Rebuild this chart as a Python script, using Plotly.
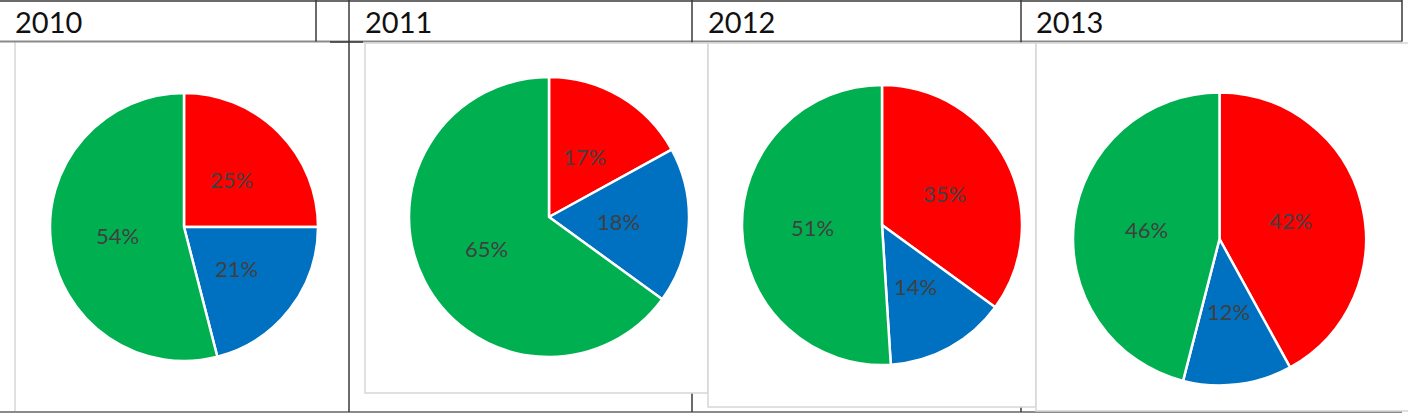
import math
import plotly.graph_objects as go

W, H = 1408, 419

years = ["2010", "2011", "2012", "2013"]
categories = ["A", "B", "C"]
red_vals = [25, 17, 35, 42]
blue_vals = [21, 18, 14, 12]
green_vals = [54, 65, 51, 46]
colors = ["#FF0000", "#0070C0", "#00B050"]

# layout (pixel) geometry for each pie: center x, center y, radius
pie_cx = [184, 549, 882, 1219.5]
pie_cy = [227, 217, 225, 239]
pie_r = [134, 140, 140, 146.5]
header_x = [16, 366, 709, 1037]
LABEL_R = 0.5  # labels sit at half radius along slice bisector (Excel style)

fig = go.Figure()
layout_axes = {}
annotations = []
for i, y in enumerate(years):
    cx, cy, r = pie_cx[i], pie_cy[i], pie_r[i]
    dom_x = [(cx - r) / W, (cx + r) / W]
    dom_y = [(H - cy - r) / H, (H - cy + r) / H]
    vals = [red_vals[i], blue_vals[i], green_vals[i]]
    fig.add_trace(go.Pie(
        labels=categories,
        values=vals,
        sort=False,
        direction="clockwise",
        rotation=0,
        marker=dict(colors=colors, line=dict(color="white", width=2.5)),
        textinfo="none",
        hoverinfo="skip",
        domain=dict(x=dom_x, y=dom_y),
        showlegend=False,
    ))
    # hidden cartesian axes sharing the pie's square domain, range [-1, 1]
    sfx = "" if i == 0 else str(i + 1)
    layout_axes["xaxis" + sfx] = dict(domain=dom_x, range=[-1, 1], visible=False,
                                      fixedrange=True)
    layout_axes["yaxis" + sfx] = dict(domain=dom_y, range=[-1, 1], visible=False,
                                      fixedrange=True, anchor="x" + sfx)
    layout_axes["xaxis" + sfx]["anchor"] = "y" + sfx
    fig.add_trace(go.Scatter(x=[], y=[], xaxis="x" + sfx, yaxis="y" + sfx,
                             showlegend=False, hoverinfo="skip"))
    total = sum(vals)
    cum = 0
    for v in vals:
        mid = (cum + v / 2) / total * 2 * math.pi
        cum += v
        annotations.append(dict(
            text=f"{v}%", xref="x" + sfx, yref="y" + sfx,
            x=LABEL_R * math.sin(mid), y=LABEL_R * math.cos(mid),
            xanchor="center", yanchor="middle", showarrow=False,
            font=dict(family="Lato", size=22, color="#404040")))


def px(x):
    return x / W


def py(y):
    return 1 - y / H


shapes = []
dark = "#3a3a3a"
gray = "#8a8a8a"
light = "#d6d6d6"


def line(x0, y0, x1, y1, color, width):
    shapes.append(dict(type="line", xref="paper", yref="paper",
                       x0=px(x0), y0=py(y0), x1=px(x1), y1=py(y1),
                       line=dict(color=color, width=width), layer="below"))


def rect(x0, y0, x1, y1, color, width):
    shapes.append(dict(type="rect", xref="paper", yref="paper",
                       x0=px(x0), y0=py(y0), x1=px(x1), y1=py(y1),
                       line=dict(color=color, width=width),
                       fillcolor="white", layer="below"))


# first chart box: only its left edge is visible
line(15, 42, 15, 411, light, 1.5)

# table lines
line(0, 1, 1402, 1, dark, 1.5)
line(0, 41.5, 1402, 41.5, gray, 2)
line(0, 412, 1402, 412, gray, 2)
line(316, 0, 316, 41.5, dark, 1.5)
line(349, 0, 349, 412, dark, 1.5)
line(692, 0, 692, 412, dark, 1.5)
line(1021, 0, 1021, 412, dark, 1.5)
line(1402, 0, 1402, 41.5, dark, 1.5)
line(330, 42, 363, 42, dark, 1.5)

# chart boxes (opaque, covering table lines)
rect(365, 43, 708, 393, light, 1.5)
rect(708, 43, 1036, 407, light, 1.5)
rect(1036, 43, 1412, 411, light, 1.5)

for i, y in enumerate(years):
    annotations.append(dict(text=y, xref="paper", yref="paper",
                            x=px(header_x[i] - 3), y=py(21), xanchor="left",
                            yanchor="middle", showarrow=False,
                            font=dict(family="Lato", size=29, color="#111111")))

fig.update_layout(
    width=W, height=H, autosize=False,
    margin=dict(l=0, r=0, t=0, b=0),
    paper_bgcolor="white", plot_bgcolor="rgba(0,0,0,0)",
    shapes=shapes, annotations=annotations,
    showlegend=False,
    **layout_axes,
)

fig.write_html("out.html")
